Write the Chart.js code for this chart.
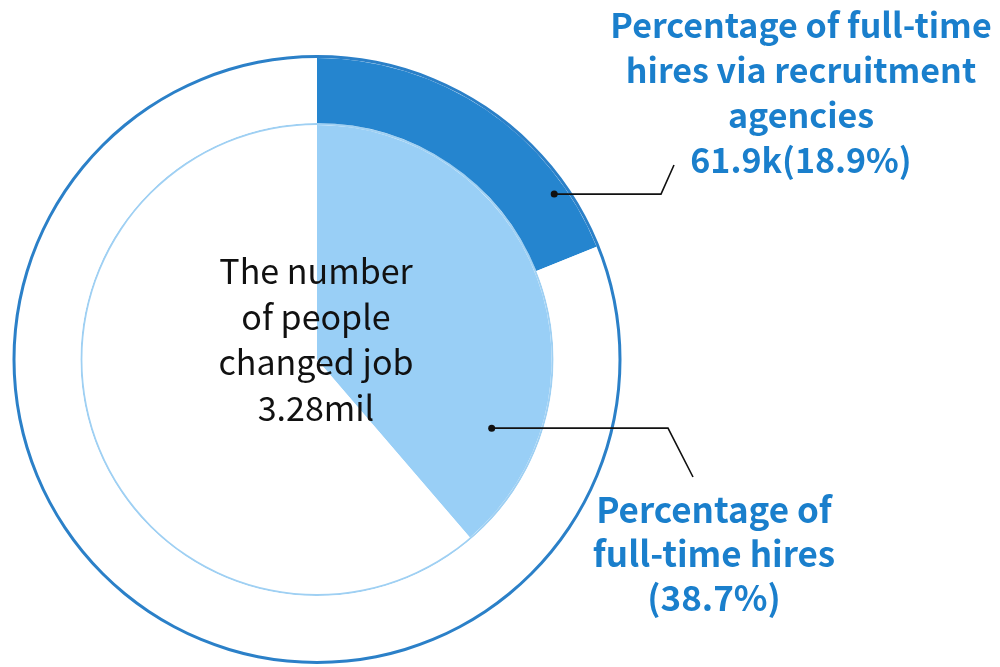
<!DOCTYPE html>
<html lang="en">
<head>
  <meta charset="UTF-8" />
  <title>Job changers and full-time hires</title>
  <script src="https://cdn.jsdelivr.net/npm/chart.js"></script>
  <style>
    body {
      margin: 0;
      width: 1000px;
      height: 667px;
      background: #fff;
      overflow: hidden;
      font-family: 'Noto Sans CJK JP', 'Noto Sans', sans-serif;
    }
    #wrap {
      position: relative;
      width: 1000px;
      height: 667px;
    }
    #ring {
      position: absolute;
      left: 0;
      top: 0;
    }
    .note {
      position: absolute;
      text-align: center;
      white-space: nowrap;
    }
    #centerNote {
      left: 166px;
      width: 300px;
      top: 247px;
      font-size: 34px;
      line-height: 45.5px;
      color: #111;
    }
    #agencyNote {
      left: 601px;
      width: 400px;
      top: 1px;
      font-size: 34px;
      line-height: 45px;
      font-weight: bold;
      color: #1a7fcc;
    }
    #fullTimeNote {
      left: 564px;
      width: 300px;
      top: 486px;
      font-size: 35px;
      line-height: 44px;
      font-weight: bold;
      color: #1a7fcc;
    }
  </style>
</head>
<body>

<div id="wrap">
  <canvas id="ring" width="1000" height="667"></canvas>
  <div class="note" id="centerNote"></div>
  <div class="note" id="agencyNote"></div>
  <div class="note" id="fullTimeNote"></div>
</div>

<script>
// shares in percent of all job changers
const sliceNames = ['Via recruitment agencies', 'Other'];
const agencyShare = [18.9, 81.1];
const fullTimeShare = [38.7, 61.3];
const agencyHires = '61.9k';
const totalChanged = '3.28mil';

const darkBlue = '#2585cf';
const lightBlue = '#99cff6';

document.getElementById('centerNote').innerHTML =
  'The number<br>of people<br>changed job<br>' + totalChanged;
document.getElementById('agencyNote').innerHTML =
  'Percentage of full-time<br>hires via recruitment<br>agencies<br>' +
  agencyHires + '(' + agencyShare[0] + '%)';
document.getElementById('fullTimeNote').innerHTML =
  'Percentage of<br>full-time hires<br>(' + fullTimeShare[0] + '%)';

// dot on the slice, then a bent line towards its text
const leaderLines = {
  id: 'leaderLines',
  afterDatasetsDraw(chart, args, opts) {
    const ctx = chart.ctx;
    ctx.save();
    ctx.strokeStyle = '#111';
    ctx.fillStyle = '#111';
    ctx.lineWidth = 1.6;
    opts.lines.forEach(l => {
      const arc = chart.getDatasetMeta(l.dataset).data[0];
      const p = arc.getProps(['x', 'y', 'startAngle', 'endAngle', 'innerRadius', 'outerRadius'], true);
      const a = p.startAngle + (p.endAngle - p.startAngle) * l.at;
      const r = p.innerRadius + (p.outerRadius - p.innerRadius) * l.at;
      const px = p.x + Math.cos(a) * r;
      const py = p.y + Math.sin(a) * r;
      ctx.beginPath();
      ctx.arc(px, py, 3.5, 0, Math.PI * 2);
      ctx.fill();
      ctx.beginPath();
      ctx.moveTo(px, py);
      ctx.lineTo(l.elbowX, py);
      ctx.lineTo(l.endX, l.endY);
      ctx.stroke();
    });
    ctx.restore();
  }
};

new Chart(document.getElementById('ring'), {
  type: 'doughnut',
  data: {
    labels: sliceNames,
    datasets: [
      { label: 'outline', data: [100], backgroundColor: ['#2b80c8'], weight: 3 },
      { label: 'Full-time hires via recruitment agencies', data: agencyShare,
        backgroundColor: [darkBlue, '#ffffff'], weight: 65 },
      { label: 'inner outline', data: [100], backgroundColor: ['#9fd0f3'], weight: 2 },
      { label: 'Full-time hires', data: fullTimeShare,
        backgroundColor: [lightBlue, '#ffffff'], weight: 235 }
    ]
  },
  options: {
    responsive: false,
    animation: false,
    cutout: 0,
    layout: { padding: { left: 12, top: 55, right: 378, bottom: 3 } },
    elements: { arc: { borderWidth: 0 } },
    plugins: {
      legend: { display: false },
      tooltip: { enabled: false },
      leaderLines: {
        lines: [
          { dataset: 1, at: 0.81, elbowX: 661, endX: 674, endY: 165 },
          { dataset: 3, at: 0.8, elbowX: 668, endX: 693, endY: 477 }
        ]
      }
    }
  },
  plugins: [leaderLines]
});
</script>

</body>
</html>
